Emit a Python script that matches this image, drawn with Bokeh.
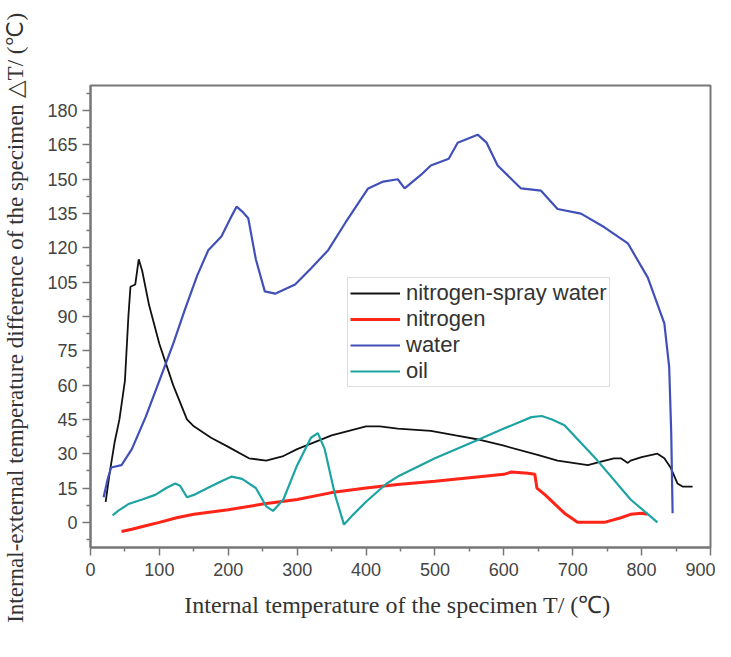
from bokeh.plotting import figure
from bokeh.models import FixedTicker
from bokeh.embed import file_html
from bokeh.resources import INLINE

# nitrogen-spray water (black)
ns_x = [22, 28, 35, 42, 50, 55, 58, 65, 70, 75, 85, 100, 120, 140, 150, 175, 200, 230, 255, 280, 300,
        350, 400, 420, 446, 494, 530, 567, 600, 649, 678, 700, 722, 741, 760, 770, 780, 784, 800, 823,
        833, 842, 852, 860, 874]
ns_y = [9, 22, 35, 45, 62, 90, 103, 104, 115, 110, 95, 78, 60, 45, 42, 37, 33, 28, 27, 29, 32,
        38, 42, 42, 41, 40, 38, 36, 33.5, 29.5, 27, 26, 25, 26.5, 28, 28, 26, 27, 28.5, 30,
        28, 24, 17, 15.6, 15.6]

# nitrogen (red)
n_x = [45, 60, 80, 100, 125, 150, 200, 250, 300, 350, 400, 446, 500, 550, 600, 611, 635, 645, 648,
       652, 660, 688, 707, 720, 746, 770, 784, 800, 809]
n_y = [-4, -3, -1.5, 0, 2, 3.5, 5.5, 8, 10, 13, 15, 16.5, 18, 19.5, 21, 22, 21.5, 21, 15,
       14, 12, 4, 0, 0, 0, 2, 3.5, 4, 3.5]

# water (blue)
w_x = [19, 25, 30, 45, 60, 80, 100, 120, 137, 155, 171, 190, 205, 212, 220, 229, 240, 253, 268, 297,
       320, 345, 370, 403, 425, 446, 456, 480, 494, 520, 533, 562, 575, 591, 625, 654, 678, 712, 746,
       780, 809, 833, 840, 843, 845]
w_y = [11, 19, 24, 25, 32, 46, 62, 78, 93, 108, 119, 125, 134, 138, 136, 133, 115, 101, 100, 104,
       111, 119, 131, 146, 149, 150, 146, 152, 156, 159, 166, 169.5, 166, 156, 146, 145, 137, 135, 129,
       122, 107, 87, 68, 39, 4]

# oil (teal)
o_x = [32, 40, 55, 75, 94, 110, 123, 130, 140, 150, 170, 190, 205, 220, 240, 255, 265, 280, 300, 320,
       330, 340, 355, 368, 380, 400, 430, 446, 500, 562, 600, 640, 655, 670, 688, 736, 784, 823]
o_y = [3, 5, 8, 10, 12, 15, 17, 16, 11, 12, 15, 18, 20, 19, 15, 7, 5, 10, 25, 37,
       39, 32, 12, -1, 3, 9, 17, 20, 28, 36, 41, 46, 46.5, 45, 42.5, 27, 10, 0]

series_names = ["nitrogen-spray water", "nitrogen", "water", "oil"]
x_ticks = [0, 100, 200, 300, 400, 500, 600, 700, 800, 900]
y_ticks = [0, 15, 30, 45, 60, 75, 90, 105, 120, 135, 150, 165, 180]

p = figure(width=715, height=641, output_backend="svg", toolbar_location=None,
           x_range=(0, 900), y_range=(-11, 191),
           min_border_left=89, min_border_right=5, min_border_top=85, min_border_bottom=94)
p.xgrid.visible = False
p.ygrid.visible = False
p.outline_line_color = "#777777"
p.outline_line_width = 2

p.line(ns_x, ns_y, color="#111111", line_width=1.8, legend_label=series_names[0])
p.line(n_x, n_y, color="#ff2418", line_width=3, legend_label=series_names[1])
p.line(w_x, w_y, color="#4150b8", line_width=2.2, legend_label=series_names[2])
p.line(o_x, o_y, color="#1ea3a3", line_width=2.2, legend_label=series_names[3])

p.xaxis.ticker = FixedTicker(ticks=x_ticks, minor_ticks=[v + 50 for v in x_ticks[:-1]])
p.yaxis.ticker = FixedTicker(ticks=y_ticks, minor_ticks=[v - 7.5 for v in y_ticks] + [187.5])

for ax in (p.xaxis[0], p.yaxis[0]):
    ax.axis_line_color = "#777777"
    ax.axis_line_width = 2
    ax.major_tick_line_color = "#777777"
    ax.minor_tick_line_color = "#777777"
    ax.major_tick_line_width = 1.5
    ax.minor_tick_line_width = 1.5
    ax.major_tick_out = 8
    ax.major_tick_in = 0
    ax.minor_tick_out = 4
    ax.minor_tick_in = 0
    ax.major_label_text_font = "Liberation Sans"
    ax.major_label_text_font_size = "18px"
    ax.major_label_text_color = "#444444"
    ax.axis_label_text_font = "Liberation Serif"
    ax.axis_label_text_font_style = "normal"
    ax.axis_label_text_color = "#333333"

p.xaxis.axis_label_text_font_size = "24px"
p.yaxis.axis_label_text_font_size = "23px"
p.xaxis.axis_label = "Internal temperature of the specimen  T/ (\u2103)"
p.yaxis.axis_label = "Internal-external temperature difference of the specimen  \u25b3T/ (\u2103)"
p.xaxis.major_label_standoff = 7
p.xaxis.axis_label_standoff = 13
p.yaxis.major_label_standoff = 5
p.yaxis.axis_label_standoff = 16

lg = p.legend[0]
lg.location = (257, 160)
lg.glyph_width = 50
lg.glyph_height = 26
lg.label_height = 26
lg.spacing = 0
lg.padding = 2
lg.margin = 0
lg.label_standoff = 6
lg.label_text_font = "Liberation Sans"
lg.label_text_font_size = "22px"
lg.label_text_color = "#333333"
lg.border_line_color = "#bbbbbb"
lg.border_line_width = 1.5
lg.background_fill_alpha = 1

open("out.html", "w").write(file_html(p, INLINE))
